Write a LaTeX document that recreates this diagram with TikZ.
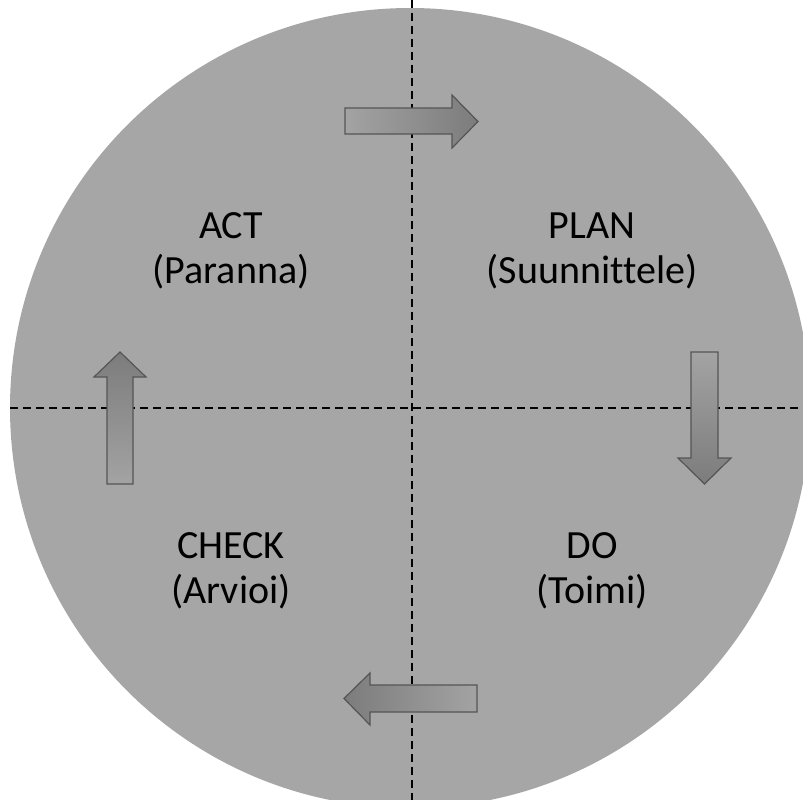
\documentclass[tikz,border=0pt]{standalone}
\usepackage{fontspec}
\setmainfont[Ligatures=NoCommon]{Carlito}
\usetikzlibrary{positioning}

\definecolor{discgray}{HTML}{A6A6A6}
\definecolor{arrowlight}{HTML}{A3A3A3}
\definecolor{arrowdark}{HTML}{7C7C7C}
\definecolor{arrowline}{HTML}{555555}

\tikzset{
	phase/.style={align=center,inner sep=0pt,font=\fontsize{40}{45}\selectfont},
	axis/.style={line width=1.8pt,dash pattern=on 8pt off 5pt},
	cyclearrow/.style={draw=arrowline,line width=1.2pt,line join=miter}
}

\begin{document}
\begin{tikzpicture}[x=1pt,y=-1pt]
	\useasboundingbox (0,0) rectangle (803,800);
	\begin{scope}
		\clip (0,0) rectangle (803,800);
		\fill[discgray] (410,408) circle[radius=400];
		% quadrant lines
		\draw[axis] (412,0) -- (412,800);
		\draw[axis] (10,408) -- (803,408);
	\end{scope}
	% arrows of the cycle
	\shade[cyclearrow,left color=arrowlight,right color=arrowdark]
		(345,108) -- (452,108) -- (452,95) -- (478,121.5) -- (452,148) -- (452,134) -- (345,134) -- cycle;
	\shade[cyclearrow,top color=arrowlight,bottom color=arrowdark]
		(691,352) -- (718,352) -- (718,458) -- (731,458) -- (704.5,484) -- (678,458) -- (691,458) -- cycle;
	\shade[cyclearrow,right color=arrowlight,left color=arrowdark]
		(477,685) -- (370,685) -- (370,673) -- (344,698.5) -- (370,725) -- (370,712) -- (477,712) -- cycle;
	\shade[cyclearrow,bottom color=arrowlight,top color=arrowdark]
		(107,484) -- (107,377) -- (94,377) -- (120,352) -- (146,377) -- (133,377) -- (133,484) -- cycle;
	% phases
	\node[phase] (act) at (231,251) {ACT\\(Paranna)};
	\node[phase] (plan) at (592,251) {PLAN\\(Suunnittele)};
	\node[phase] (check) at (231,571) {CHECK\\(Arvioi)};
	\node[phase] (do) at (592,571) {DO\\(Toimi)};
\end{tikzpicture}
\end{document}
